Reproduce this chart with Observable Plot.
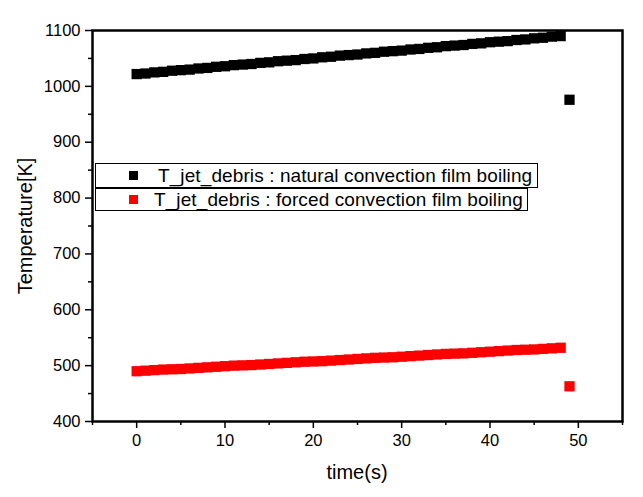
<!DOCTYPE html>
<html>
<head>
<meta charset="utf-8">
<script src="https://cdn.jsdelivr.net/npm/d3@7"></script>
<script src="https://cdn.jsdelivr.net/npm/@observablehq/plot@0.6"></script>
<style>
  html, body { margin: 0; padding: 0; background: #fff; }
  #wrap { position: relative; width: 643px; height: 497px; font-family: "Liberation Sans", Arial, sans-serif; }
  .title { position: absolute; font-size: 20px; color: #000; white-space: nowrap; }
  .legbox { position: absolute; border: 1.5px solid #000; background: #fff; box-sizing: border-box; }
  .legsym { position: absolute; width: 9px; height: 9px; }
  .legtxt { position: absolute; font-size: 19px; letter-spacing: 0.1px; white-space: nowrap; color: #000; }
</style>
</head>
<body>
<div id="wrap"></div>
<script>
const times = [0,1,2,3,4,5,6,7,8,9,10,11,12,13,14,15,16,17,18,19,20,21,22,23,24,25,26,27,28,29,30,31,32,33,34,35,36,37,38,39,40,41,42,43,44,45,46,47,48,49];
const naturalTemp = [1022,1023,1025,1026,1028,1029,1030,1032,1033,1035,1036,1038,1039,1040,1042,1043,1045,1046,1047,1049,1050,1052,1053,1055,1056,1057,1059,1060,1062,1063,1064,1066,1067,1069,1070,1072,1073,1074,1076,1077,1079,1080,1081,1083,1084,1086,1087,1089,1090,976];
const forcedTemp = [490,491,492,493,493.5,494,495,496,497,498,499,500,500.5,501,502,503,504,505,506,507,507.5,508,509,510,511,512,513,514,514.5,515,516,517,518,519,520,521,521.5,522,523,524,525,526,527,528,528.5,529,530,531,532,463];
const seriesNames = ["T_jet_debris : natural convection film boiling", "T_jet_debris : forced convection film boiling"];
const seriesColors = ["#000000", "#ff0000"];
const xMajorTicks = [0,10,20,30,40,50];
const xMinorTicks = [-5,5,15,25,35,45,55];
const yMajorTicks = [400,500,600,700,800,900,1000,1100];
const yMinorTicks = [450,550,650,750,850,950,1050];

const data = [];
times.forEach((t, i) => {
  data.push({t, v: naturalTemp[i], s: seriesNames[0]});
  data.push({t, v: forcedTemp[i], s: seriesNames[1]});
});

const W = 643, H = 497, ML = 92, MR = 21, MT = 30, MB = 76;

const chart = Plot.plot({
  width: W, height: H,
  marginLeft: ML, marginRight: MR, marginTop: MT, marginBottom: MB,
  style: { fontFamily: "Liberation Sans, Arial, sans-serif", fontSize: "16px", color: "#000", background: "#fff" },
  x: { domain: [-5, 55] },
  y: { domain: [400, 1100] },
  color: { domain: seriesNames, range: seriesColors },
  marks: [
    Plot.dot(data, { x: "t", y: "v", fill: "s", symbol: "square", r: 5.8, stroke: "none" }),
    Plot.axisX(xMajorTicks, { tickSize: 7, tickPadding: 6, strokeWidth: 1.5, label: null, fontSize: 16.5, tickFormat: d => String(d) }),
    Plot.axisX(xMinorTicks, { tickSize: 4, text: null, strokeWidth: 1.5, label: null }),
    Plot.axisY(yMajorTicks, { tickSize: 7, tickPadding: 5, strokeWidth: 1.5, label: null, fontSize: 16.5, tickFormat: d => String(d) }),
    Plot.axisY(yMinorTicks, { tickSize: 4, text: null, strokeWidth: 1.5, label: null }),
    Plot.frame({ stroke: "#000", strokeWidth: 2.5 })
  ]
});

const wrap = document.getElementById("wrap");
wrap.appendChild(chart);

// axis titles
const xt = document.createElement("div");
xt.className = "title";
xt.textContent = "time(s)";
xt.style.left = (ML + (W - ML - MR) / 2) + "px";
xt.style.top = "461px";
xt.style.transform = "translateX(-50%)";
wrap.appendChild(xt);

const yt = document.createElement("div");
yt.className = "title";
yt.textContent = "Temperature[K]";
yt.style.left = "25px";
yt.style.top = (MT + (H - MT - MB) / 2) + "px";
yt.style.transform = "translate(-50%, -50%) rotate(-90deg)";
wrap.appendChild(yt);

// legend
const boxes = [
  { left: 95, top: 163, w: 443, h: 25, symX: 129, txtX: 158 },
  { left: 95, top: 188, w: 433, h: 23, symX: 129, txtX: 154 }
];
boxes.forEach((b, i) => {
  const box = document.createElement("div");
  box.className = "legbox";
  box.style.left = b.left + "px"; box.style.top = b.top + "px";
  box.style.width = b.w + "px"; box.style.height = b.h + "px";
  wrap.appendChild(box);
  const sym = document.createElement("div");
  sym.className = "legsym";
  sym.style.background = seriesColors[i];
  sym.style.left = b.symX + "px";
  sym.style.top = (b.top + b.h / 2 - 4.5) + "px";
  wrap.appendChild(sym);
  const txt = document.createElement("div");
  txt.className = "legtxt";
  txt.textContent = seriesNames[i];
  txt.style.left = b.txtX + "px";
  txt.style.top = (b.top + b.h / 2) + "px";
  txt.style.transform = "translateY(-52%)";
  wrap.appendChild(txt);
});
</script>
</body>
</html>
